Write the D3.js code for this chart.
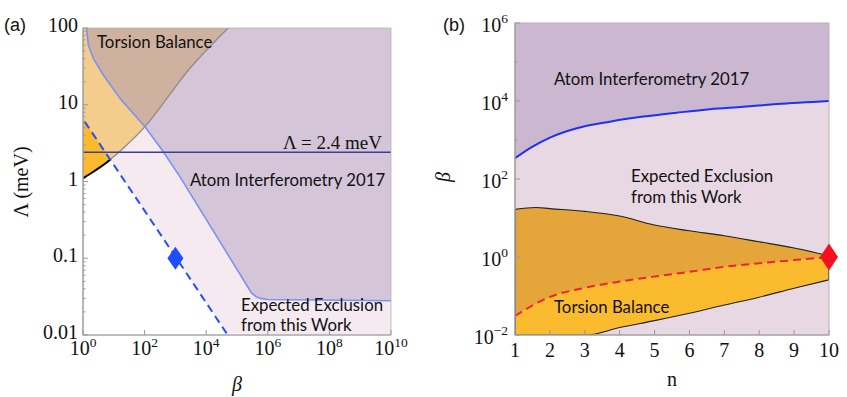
<!DOCTYPE html>
<html>
<head>
<meta charset="utf-8">
<script src="https://cdn.jsdelivr.net/npm/d3@7"></script>
<style>
  body { margin: 0; background: #fff; }
  svg { display: block; }
  .lab { font-family: Lato, "Open Sans", sans-serif; font-size: 16.8px; fill: #111; }
  .tick { font-family: "Liberation Serif", "DejaVu Serif", serif; font-size: 20px; fill: #111; }
</style>
</head>
<body>
<svg id="chart" width="847" height="397"></svg>
<script>
// ---- panel (a): Lambda vs beta ----
var torsionBetaA   = [1, 2.16, 4.56, 8.5, 14, 103, 2980, 52000];
var torsionLambdaA = [1.1, 1.34, 1.64, 2.0, 2.37, 5.18, 29.9, 100];

var atomBetaA   = [1.28, 1.32, 1.49, 2.16, 4.56, 15.9, 103, 405, 1410, 3.0e5, 4.2e5, 5.6e5, 1e6, 1e10];
var atomLambdaA = [100, 94, 60, 40.3, 24.4, 12.1, 5.18, 2.44, 1.15, 0.035, 0.0315, 0.030, 0.029, 0.028];

var expectBetaA   = [1, 1000, 46000];
var expectLambdaA = [6.5, 0.105, 0.0105];

var markerBetaA = 1000, markerLambdaA = 0.1;
var lambdaDE = 2.4;

var xTicksA = [1, 1e2, 1e4, 1e6, 1e8, 1e10];
var xExpA = ["0", "2", "4", "6", "8", "10"];
var yTicksA = [0.01, 0.1, 1, 10, 100];
var yLabelsA = ["0.01", "0.1", "1", "10", "100"];

// ---- panel (b): beta vs n ----
var atomN    = [1, 1.43, 2, 2.77, 3.72, 4.68, 5.63, 6.59, 7.54, 8.5, 10];
var atomBeta = [339, 617, 1150, 2000, 2950, 3980, 5010, 6170, 7080, 8320, 10000];

var torsionUpN    = [1, 1.6, 2, 3, 4, 5, 6, 7, 8, 9, 10];
var torsionUpBeta = [16.6, 18.6, 17.4, 14.8, 11.2, 6.6, 4.7, 3.5, 2.45, 1.7, 1.07];
var torsionLoN    = [1, 3.05, 4, 5, 6, 7, 8, 9, 10];
var torsionLoBeta = [0.01, 0.01, 0.0155, 0.0234, 0.0363, 0.0589, 0.0933, 0.158, 0.26];

var expectN    = [1, 2, 3, 4, 5, 6, 7, 8, 9, 10];
var expectBeta = [0.031, 0.095, 0.162, 0.234, 0.316, 0.417, 0.562, 0.692, 0.832, 1.0];

var markerN = 10, markerBeta = 1;

var xTicksB = [1, 2, 3, 4, 5, 6, 7, 8, 9, 10];
var yTicksB = [1e-2, 1, 1e2, 1e4, 1e6];
var yExpB = ["\u22122", "0", "2", "4", "6"];

var svg = d3.select("#chart");
var defs = svg.append("defs");

function zip(a, b) { return a.map(function(v, i) { return [v, b[i]]; }); }
function corners(scx, scy, pts) {
    return pts.map(function(p) { return "L" + scx(p[0]) + "," + scy(p[1]); }).join("") + "Z";
}

// ================= panel (a) =================
var xa = d3.scaleLog().domain([1, 1e10]).range([83, 391]);
var ya = d3.scaleLog().domain([0.01, 100]).range([335, 28]);

var lineA = d3.line()
    .x(function(d) { return xa(d[0]); })
    .y(function(d) { return ya(d[1]); })
    .curve(d3.curveCatmullRom.alpha(0.5));
var straightA = d3.line()
    .x(function(d) { return xa(d[0]); })
    .y(function(d) { return ya(d[1]); });

var torsionPts = zip(torsionBetaA, torsionLambdaA);
var atomPts = zip(atomBetaA, atomLambdaA);
var expectPts = zip(expectBetaA, expectLambdaA);

var pinkPathA = "M" + xa(1) + "," + ya(100) + "L" + straightA(expectPts).slice(1) +
    corners(xa, ya, [[1e10, 0.01], [1e10, 100]]);
var leftPathA = "M" + (xa(1) - 5) + "," + ya(6.5) + "L" + straightA(expectPts).slice(1) +
    "L" + (xa(1) - 5) + "," + (ya(0.01) + 5) + "Z";
var atomPathA = straightA(atomPts) + corners(xa, ya, [[1e10, 100]]);
var torsionPathA = lineA(torsionPts) + corners(xa, ya, [[1, 100]]);

defs.append("clipPath").attr("id", "clipPinkA").append("path").attr("d", pinkPathA);
defs.append("clipPath").attr("id", "clipAtomA").append("path").attr("d", atomPathA);
defs.append("clipPath").attr("id", "clipLeftA").append("path").attr("d", leftPathA);
defs.append("clipPath").attr("id", "clipPlotA").append("rect")
    .attr("x", xa(1)).attr("y", ya(100))
    .attr("width", xa(1e10) - xa(1)).attr("height", ya(0.01) - ya(100));

var ga = svg.append("g").attr("clip-path", "url(#clipPlotA)");

ga.append("path").attr("d", pinkPathA).attr("fill", "#f4eaf0");
ga.append("path").attr("d", atomPathA).attr("fill", "#d4c5d9");
ga.append("path").attr("d", torsionPathA).attr("fill", "#fbba2b");
ga.append("path").attr("d", torsionPathA).attr("fill", "#f4cc8c").attr("clip-path", "url(#clipPinkA)");
ga.append("g").attr("clip-path", "url(#clipAtomA)")
    .append("path").attr("d", torsionPathA).attr("fill", "#cfb1a0");

// torsion boundary: black where alone, grey under the overlays
ga.append("g").attr("clip-path", "url(#clipLeftA)")
    .append("path").attr("d", lineA(torsionPts))
    .attr("fill", "none").attr("stroke", "#000").attr("stroke-width", 2);
ga.append("g").attr("clip-path", "url(#clipPinkA)")
    .append("path").attr("d", lineA(torsionPts))
    .attr("fill", "none").attr("stroke", "#8f8a8c").attr("stroke-width", 1.3);

ga.append("path").attr("d", straightA(atomPts))
    .attr("fill", "none").attr("stroke", "#7b93f0").attr("stroke-width", 1.6)
    .attr("stroke-linejoin", "round");

ga.append("line")
    .attr("x1", xa(1)).attr("x2", xa(1e10))
    .attr("y1", ya(lambdaDE)).attr("y2", ya(lambdaDE))
    .attr("stroke", "#3d4099").attr("stroke-width", 1.6);

ga.append("path").attr("d", straightA(expectPts))
    .attr("fill", "none").attr("stroke", "#2550f5").attr("stroke-width", 2)
    .attr("stroke-dasharray", "8,5").attr("stroke-dashoffset", -3);

svg.append("path")
    .attr("d", "M0,-11.5L8,0L0,11.5L-8,0Z")
    .attr("transform", "translate(" + xa(markerBetaA) + "," + ya(markerLambdaA) + ")")
    .attr("fill", "#1f4cff");

// axes (a)
var axA = svg.append("g");
axA.append("rect")
    .attr("x", xa(1)).attr("y", ya(100))
    .attr("width", xa(1e10) - xa(1)).attr("height", ya(0.01) - ya(100))
    .attr("fill", "none").attr("stroke", "#b4b4b4").attr("stroke-width", 0.8);
axA.append("line").attr("x1", xa(1)).attr("x2", xa(1)).attr("y1", ya(100)).attr("y2", ya(0.01))
    .attr("stroke", "#999").attr("stroke-width", 1.2);
axA.append("line").attr("x1", xa(1)).attr("x2", xa(1e10)).attr("y1", ya(0.01)).attr("y2", ya(0.01))
    .attr("stroke", "#999").attr("stroke-width", 1.2);

var minorA = [];
[0.01, 0.1, 1, 10].forEach(function(dec) {
    for (var k = 2; k <= 9; k++) minorA.push(dec * k);
});
axA.selectAll(".ymin").data(minorA).enter().append("line")
    .attr("x1", xa(1)).attr("x2", xa(1) + 2.5)
    .attr("y1", function(d) { return ya(d); }).attr("y2", function(d) { return ya(d); })
    .attr("stroke", "#999");
axA.selectAll(".ymaj").data(yTicksA).enter().append("line")
    .attr("x1", xa(1)).attr("x2", xa(1) + 5)
    .attr("y1", function(d) { return ya(d); }).attr("y2", function(d) { return ya(d); })
    .attr("stroke", "#999");
axA.selectAll(".xmaj").data(xTicksA).enter().append("line")
    .attr("x1", function(d) { return xa(d); }).attr("x2", function(d) { return xa(d); })
    .attr("y1", ya(0.01)).attr("y2", ya(0.01) - 5)
    .attr("stroke", "#999");

axA.selectAll(".ylab").data(yTicksA).enter().append("text")
    .attr("class", "tick")
    .attr("x", xa(1) - 5)
    .attr("y", function(d) { return ya(d) + 4; })
    .attr("text-anchor", "end")
    .text(function(d, i) { return yLabelsA[i]; });

var xlabA = axA.selectAll(".xlab").data(xTicksA).enter().append("text")
    .attr("class", "tick")
    .attr("x", function(d) { return xa(d); })
    .attr("y", 355)
    .attr("text-anchor", "middle");
xlabA.append("tspan").text("10");
xlabA.append("tspan").attr("dy", -8.5).style("font-size", "13.5px")
    .text(function(d, i) { return xExpA[i]; });

// ================= panel (b) =================
var xb = d3.scaleLinear().domain([1, 10]).range([515, 829]);
var yb = d3.scaleLog().domain([1e-2, 1e6]).range([335, 23]);

var lineB = d3.line()
    .x(function(d) { return xb(d[0]); })
    .y(function(d) { return yb(d[1]); })
    .curve(d3.curveMonotoneX);

var atomPtsB = zip(atomN, atomBeta);
var upPtsB = zip(torsionUpN, torsionUpBeta);
var loPtsB = zip(torsionLoN, torsionLoBeta);
var expPtsB = zip(expectN, expectBeta);

var atomPathB = lineB(atomPtsB) + corners(xb, yb, [[10, 1e6], [1, 1e6]]);
var pinkPathB = lineB(atomPtsB) + corners(xb, yb, [[10, 1e-2], [1, 1e-2]]);
var aboveExpB = lineB(expPtsB) + corners(xb, yb, [[10, 1e6], [1, 1e6]]);

defs.append("clipPath").attr("id", "clipPlotB").append("rect")
    .attr("x", xb(1)).attr("y", yb(1e6))
    .attr("width", xb(10) - xb(1)).attr("height", yb(1e-2) - yb(1e6));
defs.append("clipPath").attr("id", "clipUnderUpB").append("path")
    .attr("d", lineB(upPtsB) + corners(xb, yb, [[10, 1e-2], [1, 1e-2]]));
defs.append("clipPath").attr("id", "clipAboveLoB").append("path")
    .attr("d", lineB(loPtsB) + corners(xb, yb, [[10, 1e6], [1, 1e6]]));

var gb = svg.append("g").attr("clip-path", "url(#clipPlotB)");
gb.append("path").attr("d", pinkPathB).attr("fill", "#e8d8e3");
gb.append("path").attr("d", atomPathB).attr("fill", "#cbb8d0");

// torsion balance band = under upper curve and above lower curve
var band = gb.append("g").attr("clip-path", "url(#clipUnderUpB)")
    .append("g").attr("clip-path", "url(#clipAboveLoB)");
band.append("rect")
    .attr("x", xb(1)).attr("y", yb(1e6))
    .attr("width", xb(10) - xb(1)).attr("height", yb(1e-2) - yb(1e6))
    .attr("fill", "#fbbb2e");
band.append("path").attr("d", aboveExpB).attr("fill", "#e4a53b");

gb.append("path").attr("d", lineB(upPtsB))
    .attr("fill", "none").attr("stroke", "#222").attr("stroke-width", 1.1);
gb.append("path").attr("d", lineB(loPtsB))
    .attr("fill", "none").attr("stroke", "#222").attr("stroke-width", 1.1);
gb.append("line")
    .attr("x1", xb(1)).attr("x2", xb(1))
    .attr("y1", yb(torsionUpBeta[0])).attr("y2", yb(1e-2))
    .attr("stroke", "#222").attr("stroke-width", 2);
gb.append("line")
    .attr("x1", xb(10)).attr("x2", xb(10))
    .attr("y1", yb(torsionUpBeta[torsionUpBeta.length - 1]))
    .attr("y2", yb(torsionLoBeta[torsionLoBeta.length - 1]))
    .attr("stroke", "#222").attr("stroke-width", 2);

gb.append("path").attr("d", lineB(expPtsB))
    .attr("fill", "none").attr("stroke", "#f0242c").attr("stroke-width", 2)
    .attr("stroke-dasharray", "8,5");
gb.append("path").attr("d", lineB(atomPtsB))
    .attr("fill", "none").attr("stroke", "#1f30f2").attr("stroke-width", 2);

// axes (b)
var axB = svg.append("g");
axB.append("rect")
    .attr("x", xb(1)).attr("y", yb(1e6))
    .attr("width", xb(10) - xb(1)).attr("height", yb(1e-2) - yb(1e6))
    .attr("fill", "none").attr("stroke", "#b4b4b4").attr("stroke-width", 1);
axB.append("line").attr("x1", xb(1)).attr("x2", xb(1)).attr("y1", yb(1e6)).attr("y2", yb(1e-2))
    .attr("stroke", "#999").attr("stroke-width", 1.2);
axB.append("line").attr("x1", xb(1)).attr("x2", xb(10)).attr("y1", yb(1e-2)).attr("y2", yb(1e-2))
    .attr("stroke", "#999").attr("stroke-width", 1.2);

var minorB = [0.1, 10, 1000, 1e5];
axB.selectAll(".ymin").data(minorB).enter().append("line")
    .attr("x1", xb(1)).attr("x2", xb(1) + 2.5)
    .attr("y1", function(d) { return yb(d); }).attr("y2", function(d) { return yb(d); })
    .attr("stroke", "#999");
axB.selectAll(".ymaj").data(yTicksB).enter().append("line")
    .attr("x1", xb(1)).attr("x2", xb(1) + 5)
    .attr("y1", function(d) { return yb(d); }).attr("y2", function(d) { return yb(d); })
    .attr("stroke", "#999");
axB.selectAll(".xmaj").data(xTicksB).enter().append("line")
    .attr("x1", function(d) { return xb(d); }).attr("x2", function(d) { return xb(d); })
    .attr("y1", yb(1e-2)).attr("y2", yb(1e-2) - 5)
    .attr("stroke", "#999");

svg.append("path")
    .attr("d", "M0,-13.5L9,0L0,13.5L-9,0Z")
    .attr("transform", "translate(" + xb(markerN) + "," + yb(markerBeta) + ")")
    .attr("fill", "#f5101f");

var ylabB = axB.selectAll(".ylab").data(yTicksB).enter().append("text")
    .attr("class", "tick")
    .attr("x", xb(1) - 7)
    .attr("y", function(d) { return yb(d) + 9; })
    .attr("text-anchor", "end");
ylabB.append("tspan").text("10");
ylabB.append("tspan").attr("dy", -9).style("font-size", "13.5px")
    .text(function(d, i) { return yExpB[i]; });

axB.selectAll(".xlab").data(xTicksB).enter().append("text")
    .attr("class", "tick")
    .attr("x", function(d) { return xb(d); })
    .attr("y", 357)
    .attr("text-anchor", "middle")
    .text(function(d) { return d; });

// ================= labels =================
function label(x, y, txt, cls, anchor) {
    return svg.append("text").attr("class", cls).attr("x", x).attr("y", y)
        .attr("text-anchor", anchor || "start").text(txt);
}
label(4, 31, "(a)", "lab").style("font-family", "\"Liberation Sans\", Arial, sans-serif").style("font-size", "18px");
label(443, 31, "(b)", "lab").style("font-family", "\"Liberation Sans\", Arial, sans-serif").style("font-size", "18px");

label(97, 48, "Torsion Balance", "lab");
label(382, 149, "\u039b = 2.4 meV", "tick", "end").style("font-size", "19px");
label(190, 186, "Atom Interferometry 2017", "lab");
label(241, 311, "Expected Exclusion", "lab");
label(241, 331, "from this Work", "lab");

label(554, 85, "Atom Interferometry 2017", "lab");
label(631, 182, "Expected Exclusion", "lab");
label(631, 203, "from this Work", "lab");
label(554, 313, "Torsion Balance", "lab");

svg.append("text").attr("class", "tick")
    .attr("transform", "translate(28,182) rotate(-90)")
    .attr("text-anchor", "middle")
    .text("\u039b (meV)");
svg.append("text").attr("class", "tick")
    .attr("x", 237).attr("y", 391)
    .attr("text-anchor", "middle")
    .style("font-style", "italic")
    .text("\u03b2");
svg.append("text").attr("class", "tick")
    .attr("transform", "translate(450,177) rotate(-90)")
    .attr("text-anchor", "middle")
    .style("font-style", "italic")
    .text("\u03b2");
svg.append("text").attr("class", "tick")
    .attr("x", 672).attr("y", 386)
    .attr("text-anchor", "middle")
    .text("n");
</script>
</body>
</html>
